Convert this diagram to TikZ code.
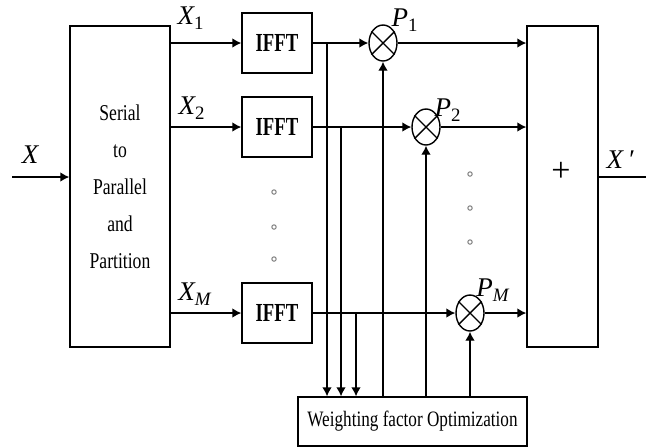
\documentclass[tikz,border=0pt]{standalone}
\usepackage{fontspec}
\setmainfont{Liberation Serif}
\newfontfamily\narrowfont[FakeStretch=0.78]{Liberation Serif}
\newfontfamily\ifftfont[FakeStretch=0.72]{Liberation Serif}
\usetikzlibrary{arrows.meta,shapes.geometric,positioning,calc}
\tikzset{every picture/.style={line width=0.7pt}}

\begin{document}
\begin{tikzpicture}[x=0.5pt,y=-0.5pt,
    block/.style={draw, inner sep=0pt},
    fft/.style={block, minimum width=35pt, minimum height=30pt, font=\ifftfont\bfseries\fontsize{13}{13}\selectfont},
    mult/.style={draw, ellipse, minimum width=14pt, minimum height=18pt, inner sep=0pt},
    sig/.style={-{Latex[length=4.5pt,width=4.8pt]}},
    lbl/.style={font=\fontsize{13.5}{13.5}\selectfont\itshape},
    dot/.style={draw=gray, line width=0.5pt}]
    \useasboundingbox (0,0) rectangle (646,447);
    % Blocks
    \node[block, minimum width=50pt, minimum height=160.5pt, align=center,
          font=\narrowfont\fontsize{11.3}{18.5}\selectfont] (sp) at (120,186.5) {Serial\\to\\Parallel\\and\\Partition};
    \node[fft] (ifft1) at (277,43) {IFFT};
    \node[fft] (ifft2) at (277,127) {IFFT};
    \node[fft] (ifftM) at (277,313) {IFFT};
    \node[block, minimum width=35.5pt, minimum height=160.5pt] (sum) at (562.5,186.5) {};
    \node[font=\fontsize{17}{17}\selectfont] (plus) at (561,172) {+};
    \node[block, minimum width=114.5pt, minimum height=24.5pt,
          font=\narrowfont\fontsize{11}{11}\selectfont] (wfo) at (412.5,421.5) {Weighting factor Optimization};
    % Multipliers
    \node[mult] (mul1) at (383,43) {};
    \node[mult] (mul2) at (426,127) {};
    \node[mult] (mulM) at (470,313) {};
    \foreach \n in {1,2,M}
        \draw (mul\n.45) -- (mul\n.225) (mul\n.135) -- (mul\n.315);
    % Labels
    \node[lbl] (lx) at (30,155) {X};
    \node[lbl] (lx1) at (191,18) {X\textsubscript{\upshape 1}};
    \node[lbl] (lx2) at (192,108) {X\textsubscript{\upshape 2}};
    \node[lbl] (lxM) at (195,294) {X\textsubscript{M}};
    \node[lbl] (lp1) at (405,20) {P\textsubscript{\upshape 1}};
    \node[lbl] (lp2) at (448,110) {P\textsubscript{\upshape 2}};
    \node[lbl] (lpM) at (493,290) {P\textsubscript{M}};
    \node[lbl] (lxo) at (620,160) {X\,′};
    % Signal paths
    \coordinate (xin) at (12,177);
    \coordinate (xout) at (646,177);
    \coordinate (tap1) at (327,43);
    \coordinate (tap2) at (341,127);
    \coordinate (tapM) at (356,313);
    \draw[sig] (xin) -- (xin -| sp.west);
    \foreach \n in {1,2,M} {
        \draw[sig] (sp.east |- ifft\n) -- (ifft\n);
        \draw[sig] (ifft\n) -- (mul\n);
        \draw[sig] (mul\n) -- (mul\n -| sum.west);
        \draw[sig] (tap\n) -- (tap\n |- wfo.north);
        \draw[sig] (mul\n |- wfo.north) -- (mul\n);
    }
    \draw (sum.east |- xout) -- (xout);
    % Dots
    \foreach \y in {192,227,259} \draw[dot] (274,\y) circle[radius=1.1pt];
    \foreach \y in {174,208,242} \draw[dot] (470,\y) circle[radius=1.1pt];
\end{tikzpicture}
\end{document}
